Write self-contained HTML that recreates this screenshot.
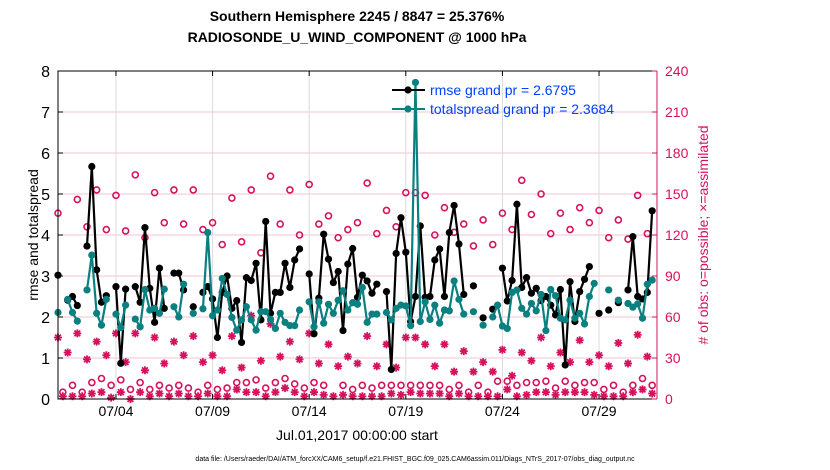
<!DOCTYPE html>
<html><head><meta charset="utf-8">
<style>
html,body{margin:0;padding:0;background:#fff;}
svg{display:block;font-family:"Liberation Sans",Arial,sans-serif;}
</style></head>
<body>
<svg id="chart" width="830" height="470" viewBox="0 0 830 470" xmlns="http://www.w3.org/2000/svg">
<text x="357" y="21" text-anchor="middle" font-size="14" font-weight="bold">Southern Hemisphere 2245 / 8847 = 25.376%</text>
<text x="357" y="42" text-anchor="middle" font-size="14" font-weight="bold">RADIOSONDE_U_WIND_COMPONENT @ 1000 hPa</text>
<g id="grid"></g>
<g id="marks"></g>
<g id="axes"></g>
<text transform="translate(38,235) rotate(-90)" text-anchor="middle" font-size="14">rmse and totalspread</text>
<text transform="translate(708,235) rotate(-90)" text-anchor="middle" font-size="14" fill="#d6125e"># of obs: o=possible; ×=assimilated</text>
<text x="357" y="440" text-anchor="middle" font-size="14">Jul.01,2017 00:00:00 start</text>
<text x="415" y="461" text-anchor="middle" font-size="7">data file: /Users/raeder/DAI/ATM_forcXX/CAM6_setup/f.e21.FHIST_BGC.f09_025.CAM6assim.011/Diags_NTrS_2017-07/obs_diag_output.nc</text>
<g>
<line x1="392" y1="90" x2="425" y2="90" stroke="#000" stroke-width="2"/>
<circle cx="408" cy="90" r="3.6" fill="#000"/>
<text x="430" y="95" font-size="14" fill="#0040ff">rmse grand pr = 2.6795</text>
<line x1="392" y1="109" x2="425" y2="109" stroke="#0a8080" stroke-width="2"/>
<circle cx="408" cy="109" r="3.6" fill="#0a8080"/>
<text x="430" y="114" font-size="14" fill="#0040ff">totalspread grand pr = 2.3684</text>
</g>
</svg>
<script>
const N = null;
const rmse = [3.02,N,2.41,2.50,2.28,N,3.73,5.67,3.15,2.36,2.52,N,2.74,0.87,2.68,N,2.74,2.36,4.18,2.70,1.87,3.19,2.21,N,3.07,3.07,2.66,N,2.25,N,2.60,2.74,2.44,1.50,2.60,3.00,2.21,2.40,1.38,2.96,2.89,3.31,1.93,4.33,2.09,2.60,2.60,3.31,2.72,3.39,3.66,N,3.05,1.59,2.46,4.02,3.41,2.84,3.11,1.67,3.29,3.67,2.48,3.02,2.88,2.58,2.80,N,2.62,0.72,3.55,4.42,3.58,1.89,2.50,4.22,2.48,2.50,3.39,3.66,2.50,4.06,4.72,3.78,2.55,N,2.76,N,1.98,N,2.19,N,3.19,2.39,2.89,4.75,2.72,2.96,2.58,2.70,2.40,2.50,2.29,2.05,2.67,0.83,2.86,1.89,2.62,2.92,3.23,N,2.09,N,2.17,N,2.35,N,2.66,3.96,2.50,2.44,2.60,4.59];
const spread = [2.11,N,2.43,2.11,1.90,N,2.66,3.51,2.09,1.80,2.43,N,2.07,1.74,2.29,N,1.95,1.76,2.67,2.17,2.21,2.09,2.68,N,2.25,2.00,2.80,N,2.09,N,2.20,4.06,2.03,2.17,2.94,2.55,1.99,1.68,1.93,2.25,1.93,1.68,2.13,2.13,1.94,1.72,2.09,1.87,1.79,1.79,2.17,N,2.37,1.76,2.37,1.85,2.31,2.09,2.41,2.64,2.17,2.35,2.31,2.72,1.87,2.07,2.07,N,2.11,1.93,2.21,2.29,2.27,1.79,7.72,1.89,2.37,1.94,2.29,1.85,2.17,2.15,2.88,2.43,2.07,N,2.13,N,1.80,N,2.00,2.29,1.78,1.72,2.60,2.66,2.21,2.07,2.33,2.15,2.55,1.67,2.67,2.52,1.97,1.93,2.41,1.97,2.09,1.83,2.50,2.82,N,N,2.66,N,2.41,N,2.33,2.24,2.32,1.97,2.80,2.90];
const possible = [136,5,N,10,146,5,126,12,153,15,124,10,149,14,123,7,164,12,118,7,151,10,129,8,153,10,128,8,153,5,124,10,129,7,113,8,147,12,115,12,153,14,107,8,163,12,128,15,153,11,120,8,157,12,128,10,134,N,118,10,124,7,129,10,158,8,121,10,138,10,126,10,151,10,151,10,149,10,120,10,140,7,122,10,128,5,112,10,131,5,113,13,136,13,124,10,160,12,135,12,150,13,121,8,136,13,124,10,140,12,129,12,138,7,118,10,131,5,117,10,149,15,121,10];
const assimilated = [45,2,34,2,48,2,29,4,42,5,32,1,48,5,27,0,48,5,21,2,45,4,26,2,42,4,32,2,46,2,27,4,32,2,21,2,46,7,23,5,61,5,28,2,55,5,31,8,42,5,29,2,48,5,26,3,40,2,24,3,31,2,26,2,46,2,24,2,40,4,23,3,45,5,45,4,40,4,24,4,40,2,20,4,35,2,20,2,27,2,20,2,36,7,17,2,34,3,28,5,45,5,24,3,34,5,27,5,43,5,27,3,32,2,24,2,41,2,26,5,47,7,31,4];
const xTicks = ["07/04","07/09","07/14","07/19","07/24","07/29"];
const xTickDays = [3,8,13,18,23,28];
const yTicksL = [0,1,2,3,4,5,6,7,8];
const yTicksR = [0,30,60,90,120,150,180,210,240];

const X0=58, X1=657, Y0=399, Y1=71, DAYS=31, STEP=0.25;
const RED="#d6125e", TEAL="#0a8080";
const xs = d => X0 + (d/DAYS)*(X1-X0);
const yL = v => Y0 - (v/8)*(Y0-Y1);
const yR = c => Y0 - (c/240)*(Y0-Y1);
const NS="http://www.w3.org/2000/svg";
function mk(tag, attrs, parent){const e=document.createElementNS(NS,tag);for(const k in attrs)e.setAttribute(k,attrs[k]);parent.appendChild(e);return e;}
const grid=document.getElementById('grid'), marks=document.getElementById('marks'), axes=document.getElementById('axes');

yTicksR.forEach(c=>{ if(c>0&&c<240){const l=mk('line',{x1:X0,x2:X1,y1:yR(c),y2:yR(c),stroke:"#f2c6d6","stroke-width":1},grid);

}});
xTickDays.forEach(d=>{const l=mk('line',{x1:xs(d),x2:xs(d),y1:Y1,y2:Y0,stroke:"#dcdcdc","stroke-width":1},grid);

});

function drawLine(arr,color,name){
  let seg=[];const segs=[];
  arr.forEach((v,i)=>{ if(v===null){ if(seg.length)segs.push(seg); seg=[]; } else seg.push([xs(i*STEP),yL(v)]); });
  if(seg.length)segs.push(seg);
  segs.forEach(s=>{ if(s.length>1){const p=mk('polyline',{points:s.map(q=>q.join(',')).join(' '),fill:"none",stroke:color,"stroke-width":2.2,"stroke-linejoin":"round"},marks);
  
  }});
  arr.forEach((v,i)=>{ if(v!==null){const c=mk('circle',{cx:xs(i*STEP),cy:yL(v),r:3.6,fill:color},marks);
  
  }});
}
possible.forEach((c,i)=>{ if(c!==null){const e=mk('circle',{cx:xs(i*STEP),cy:yR(c),r:3,fill:"none",stroke:RED,"stroke-width":1.6},marks);

}});
assimilated.forEach((c,i)=>{ if(c!==null){const x=xs(i*STEP),y=yR(c),r=4,d=2.9;
const p=mk('path',{d:`M${x-r},${y}H${x+r}M${x},${y-r}V${y+r}M${x-d},${y-d}L${x+d},${y+d}M${x-d},${y+d}L${x+d},${y-d}`,stroke:RED,"stroke-width":1.8},marks);

}});
drawLine(rmse,"#000","rmse");
drawLine(spread,TEAL,"totalspread");

mk('path',{d:`M${X1},${Y1}H${X0}V${Y0}H${X1}`,fill:"none",stroke:"#000","stroke-width":1},axes);
mk('line',{x1:X1,x2:X1,y1:Y1,y2:Y0,stroke:RED,"stroke-width":1},axes);
yTicksL.forEach(v=>{
  mk('line',{x1:X0,x2:X0+5,y1:yL(v),y2:yL(v),stroke:"#000"},axes);
  const t=mk('text',{x:X0-8,y:yL(v)+6,"text-anchor":"end","font-size":16},axes);t.textContent=v;
  
  
});
yTicksR.forEach(c=>{
  mk('line',{x1:X1-5,x2:X1,y1:yR(c),y2:yR(c),stroke:RED},axes);
  const t=mk('text',{x:X1+8,y:yR(c)+5,"font-size":14,fill:RED},axes);t.textContent=c;
  
  
});
xTicks.forEach((lab,i)=>{
  const x=xs(xTickDays[i]);
  mk('line',{x1:x,x2:x,y1:Y0,y2:Y0-5,stroke:"#000"},axes);
  mk('line',{x1:x,x2:x,y1:Y1,y2:Y1+5,stroke:"#000"},axes);
  const t=mk('text',{x:x,y:Y0+17,"text-anchor":"middle","font-size":14},axes);t.textContent=lab;
  
  
});
</script>
</body></html>
